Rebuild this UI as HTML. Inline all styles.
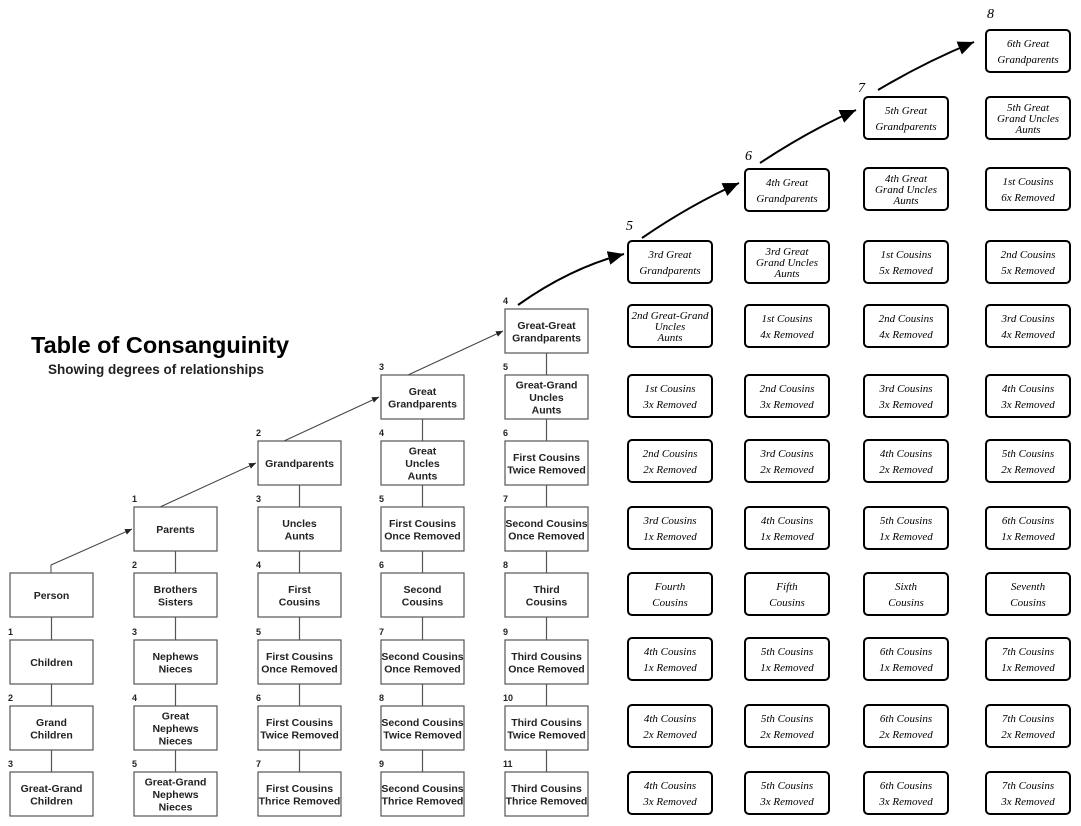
<!DOCTYPE html>
<html><head><meta charset="utf-8"><style>
html,body{margin:0;padding:0;background:#fff;}
svg{display:block;}
.pb{fill:#fff;stroke:#555;stroke-width:1.2;}
.pt{font-family:"Liberation Sans",sans-serif;font-weight:bold;font-size:10.5px;fill:#222;text-anchor:middle;}
.pn{font-family:"Liberation Sans",sans-serif;font-weight:bold;font-size:9px;fill:#222;}
.hb{fill:#fff;stroke:#000;stroke-width:2;}
.ht{font-family:"Liberation Serif",serif;font-style:italic;font-size:11px;fill:#000;text-anchor:middle;}
.hn{font-family:"Liberation Serif",serif;font-style:italic;font-size:14px;fill:#000;}
</style></head><body>
<svg id="s" width="1081" height="826" xmlns="http://www.w3.org/2000/svg">
<defs>
<marker id="a" markerWidth="8" markerHeight="8" refX="7" refY="4" orient="auto"><path d="M0,1 L7,4 L0,7 z" fill="#222"/></marker>
<marker id="b" markerWidth="9" markerHeight="9" refX="8" refY="4.5" orient="auto"><path d="M0,1 L8,4.5 L0,8 z" fill="#000"/></marker>
</defs>
<text x="31" y="353" font-family="Liberation Sans,sans-serif" font-weight="bold" font-size="23.5" fill="#000">Table of Consanguinity</text>
<text x="48" y="374" font-family="Liberation Sans,sans-serif" font-weight="bold" font-size="13.5" fill="#222">Showing degrees of relationships</text>
<g stroke="#444" stroke-width="1" fill="none">
<polyline points="51,573 51,565 132,529" marker-end="url(#a)"/>
<line x1="160" y1="507" x2="256" y2="463" marker-end="url(#a)"/>
<line x1="284" y1="441" x2="379" y2="397" marker-end="url(#a)"/>
<line x1="408" y1="375" x2="503" y2="331" marker-end="url(#a)"/>
</g>
<g stroke="#000" stroke-width="2" fill="none">
<path d="M518,305 Q570,268 624,254" marker-end="url(#b)"/>
<path d="M642,238 Q690,205 739,183" marker-end="url(#b)"/>
<path d="M760,163 Q810,130 856,110" marker-end="url(#b)"/>
<path d="M878,90 Q925,62 974,42" marker-end="url(#b)"/>
</g>
<text class="hn" x="626" y="230">5</text>
<text class="hn" x="745" y="160">6</text>
<text class="hn" x="858" y="92">7</text>
<text class="hn" x="987" y="18">8</text>
<g id="p"></g>
<g id="h"></g>
</svg>
<script>
var NS="http://www.w3.org/2000/svg";
function el(t,a,txt,par){var e=document.createElementNS(NS,t);for(var k in a)e.setAttribute(k,a[k]);if(txt!=null)e.textContent=txt;par.appendChild(e);return e;}
var P=document.getElementById('p'),H=document.getElementById('h');
var lefts=[10,134,258,381,505],W=83,Hh=44;
var cols=[
[[573,null,"Person"],[640,1,"Children"],[706,2,"Grand|Children"],[772,3,"Great-Grand|Children"]],
[[507,1,"Parents"],[573,2,"Brothers|Sisters"],[640,3,"Nephews|Nieces"],[706,4,"Great|Nephews|Nieces"],[772,5,"Great-Grand|Nephews|Nieces"]],
[[441,2,"Grandparents"],[507,3,"Uncles|Aunts"],[573,4,"First|Cousins"],[640,5,"First Cousins|Once Removed"],[706,6,"First Cousins|Twice Removed"],[772,7,"First Cousins|Thrice Removed"]],
[[375,3,"Great|Grandparents"],[441,4,"Great|Uncles|Aunts"],[507,5,"First Cousins|Once Removed"],[573,6,"Second|Cousins"],[640,7,"Second Cousins|Once Removed"],[706,8,"Second Cousins|Twice Removed"],[772,9,"Second Cousins|Thrice Removed"]],
[[309,4,"Great-Great|Grandparents"],[375,5,"Great-Grand|Uncles|Aunts"],[441,6,"First Cousins|Twice Removed"],[507,7,"Second Cousins|Once Removed"],[573,8,"Third|Cousins"],[640,9,"Third Cousins|Once Removed"],[706,10,"Third Cousins|Twice Removed"],[772,11,"Third Cousins|Thrice Removed"]]];
cols.forEach(function(c,i){var x=lefts[i];
 for(var j=0;j<c.length-1;j++)el('line',{x1:x+W/2,y1:c[j][0]+Hh,x2:x+W/2,y2:c[j+1][0],stroke:'#555','stroke-width':1.2},null,P);
 c.forEach(function(b){var y=b[0];el('rect',{x:x,y:y,width:W,height:Hh,class:'pb'},null,P);
  if(b[1]!=null)el('text',{x:x-2,y:y-5,class:'pn'},String(b[1]),P);
  var ls=b[2].split('|'),lh=12.5,y0=y+Hh/2-(ls.length-1)*lh/2+4;
  ls.forEach(function(l,k){el('text',{x:x+W/2,y:y0+k*lh,class:'pt'},l,P);});});});
var hl=[628,745,864,986],hw=84,hh=42;
var hc=[
[[241,"3rd Great|Grandparents"],[305,"2nd Great-Grand|Uncles|Aunts"],[375,"1st Cousins|3x Removed"],[440,"2nd Cousins|2x Removed"],[507,"3rd Cousins|1x Removed"],[573,"Fourth|Cousins"],[638,"4th Cousins|1x Removed"],[705,"4th Cousins|2x Removed"],[772,"4th Cousins|3x Removed"]],
[[169,"4th Great|Grandparents"],[241,"3rd Great|Grand Uncles|Aunts"],[305,"1st Cousins|4x Removed"],[375,"2nd Cousins|3x Removed"],[440,"3rd Cousins|2x Removed"],[507,"4th Cousins|1x Removed"],[573,"Fifth|Cousins"],[638,"5th Cousins|1x Removed"],[705,"5th Cousins|2x Removed"],[772,"5th Cousins|3x Removed"]],
[[97,"5th Great|Grandparents"],[168,"4th Great|Grand Uncles|Aunts"],[241,"1st Cousins|5x Removed"],[305,"2nd Cousins|4x Removed"],[375,"3rd Cousins|3x Removed"],[440,"4th Cousins|2x Removed"],[507,"5th Cousins|1x Removed"],[573,"Sixth|Cousins"],[638,"6th Cousins|1x Removed"],[705,"6th Cousins|2x Removed"],[772,"6th Cousins|3x Removed"]],
[[30,"6th Great|Grandparents"],[97,"5th Great|Grand Uncles|Aunts"],[168,"1st Cousins|6x Removed"],[241,"2nd Cousins|5x Removed"],[305,"3rd Cousins|4x Removed"],[375,"4th Cousins|3x Removed"],[440,"5th Cousins|2x Removed"],[507,"6th Cousins|1x Removed"],[573,"Seventh|Cousins"],[638,"7th Cousins|1x Removed"],[705,"7th Cousins|2x Removed"],[772,"7th Cousins|3x Removed"]]];
hc.forEach(function(c,i){var x=hl[i];c.forEach(function(b){var y=b[0];
 el('rect',{x:x,y:y,width:hw,height:hh,rx:4,class:'hb'},null,H);
 var ls=b[1].split('|'),lh=ls.length>2?11:16,y0=y+hh/2-(ls.length-1)*lh/2+4;
 ls.forEach(function(l,k){el('text',{x:x+hw/2,y:y0+k*lh,class:'ht'},l,H);});});});
</script>
</body></html>
